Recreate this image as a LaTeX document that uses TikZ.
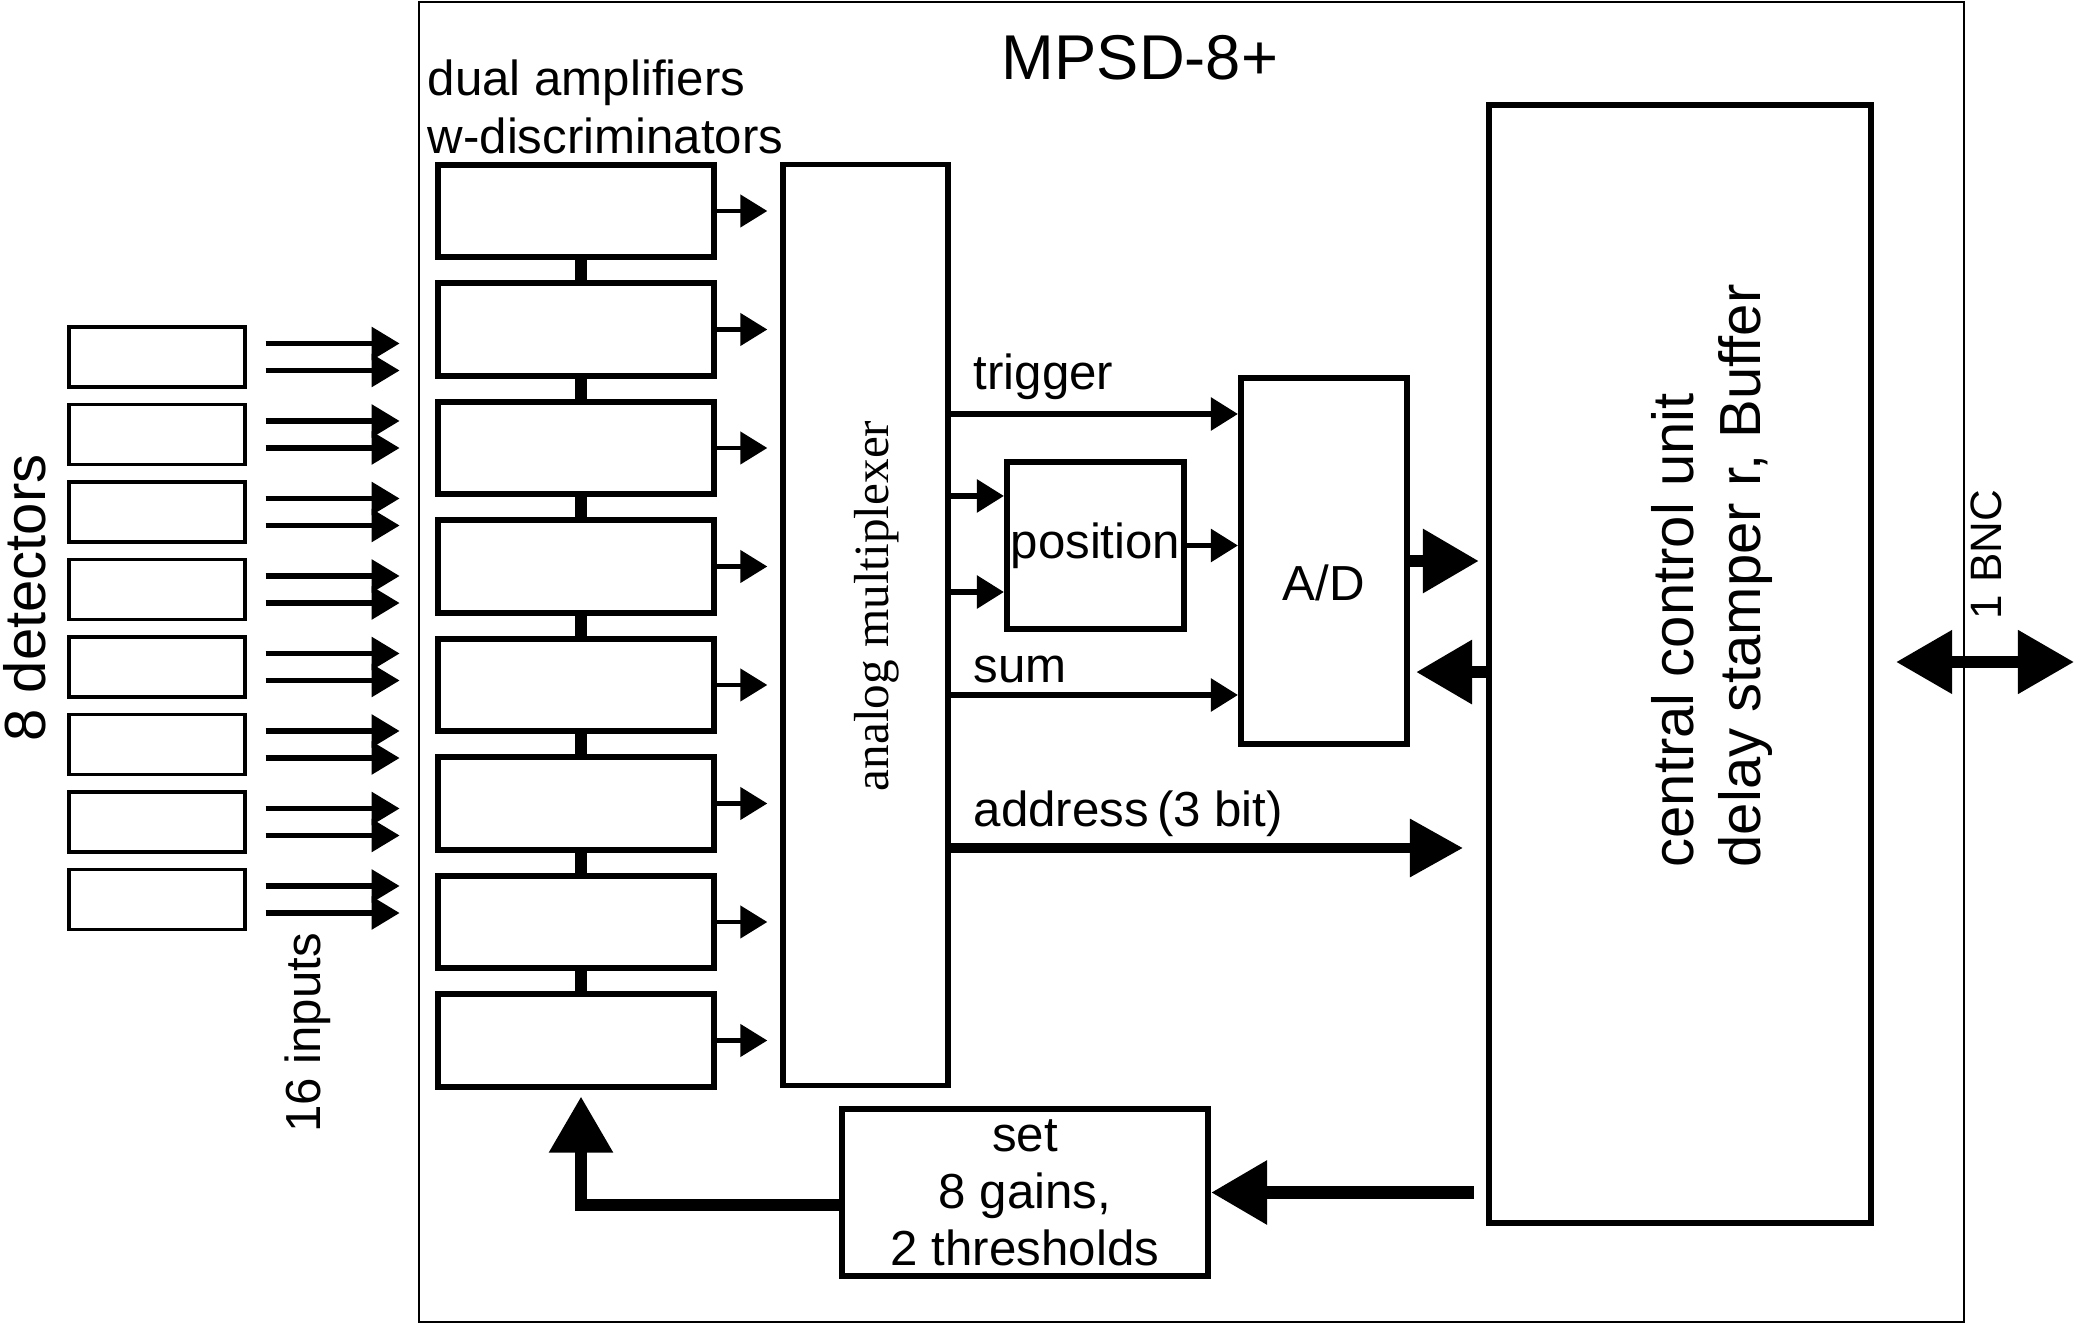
\documentclass[tikz,border=0pt]{standalone}
\usepackage{fontspec}
\setmainfont{Liberation Sans}
\newfontfamily\muxfont{Liberation Serif}
\usetikzlibrary{positioning,arrows.meta}

\begin{document}
\begin{tikzpicture}[x=0.01cm, y=-0.01cm,
  box/.style={draw, line width=1.7pt, inner sep=0pt},
  detbox/.style={draw, line width=0.9pt, minimum width=1.76cm, minimum height=0.6cm},
  ampbox/.style={box, minimum width=2.75cm, minimum height=0.92cm},
  txt/.style={font=\fontsize{14}{16.5}\selectfont, inner sep=0pt},
  inarr/.style={line width=1.6pt, -{Triangle[length=0.28cm, width=0.32cm]}},
  sig/.style={line width=1.6pt, -{Triangle[length=0.27cm, width=0.32cm]}},
  bigarr/.style={line width=3.6pt, -{Triangle[length=0.56cm, width=0.61cm]}},
  ampbar/.style={line width=3.2pt}
]
\useasboundingbox (0,0) rectangle (2075,1325);

% module frame
\draw[line width=0.7pt] (419,2) rectangle (1964,1322);
\node[font=\fontsize{18}{20}\selectfont, inner sep=0pt] (title) at (1140,58) {MPSD-8+};

% detectors and their inputs
\foreach \i in {1,...,8}{
  \node[detbox] (det\i) at (157,{357+77.5*(\i-1)}) {};
  \draw[inarr] ([xshift=0.19cm,yshift=0.135cm]det\i.east) -- +(134,0);
  \draw[inarr] ([xshift=0.19cm,yshift=-0.135cm]det\i.east) -- +(134,0);
}
\node[txt, rotate=90, font=\fontsize{16.5}{18}\selectfont] (detlab) at (25,598) {8 detectors};
\node[txt, rotate=90] (inlab) at (308,1033) {16 inputs};

% amplifier chain
\node[txt, align=left, anchor=south west] (amplab) at (427,155) {dual amplifiers\\w-discriminators};
\foreach \i in {1,...,8}
  \node[ampbox] (amp\i) at (576,{211+118.5*(\i-1)}) {};
\foreach \i [count=\j from 2] in {1,...,7}
  \draw[ampbar] ([xshift=0.05cm]amp\i.south) -- ([xshift=0.05cm]amp\j.north);

% multiplexer
\node[box, line width=1.5pt, minimum width=1.65cm, minimum height=9.2cm] (mux) at (865.5,625) {};
\node[rotate=90, inner sep=0pt, font=\muxfont\fontsize{14}{16}\selectfont] (muxlab) at (877,606) {analog multiplexer};
\foreach \i in {1,...,8}
  \draw[sig, line width=1.3pt, shorten >=0.13cm] (amp\i.east) -- (amp\i.east -| mux.west);

% A/D, position, central unit, set
\node[box, minimum width=1.66cm, minimum height=3.66cm] (ad) at (1324,561) {};
\node[txt, below=0.03cm of ad.center] (adlab) {A/D};
\node[box, minimum width=1.77cm, minimum height=1.67cm, font=\fontsize{14}{16}\selectfont] (pos) at (1095.5,545.5) {position};
\node[box, minimum width=3.82cm, minimum height=11.18cm] (ccu) at (1680,664) {};
\node[rotate=90, align=left, inner sep=0pt, font=\fontsize{16.5}{18.8}\selectfont] (ccutext) at (1712,576) {central control unit\\delay stamper r, Buffer};
\node[box, minimum width=3.66cm, minimum height=1.67cm, align=center, font=\fontsize{14}{16.2}\selectfont] (set) at (1025,1192.5) {set\\8 gains,\\2 thresholds};

% signal lines
\coordinate (trigY) at (0,414);
\coordinate (sumY) at (0,695);
\coordinate (addrY) at (0,848);
\draw[sig] (mux.east |- trigY) -- (ad.west |- trigY);
\node[txt, anchor=base west] (triglab) at (973,390) {trigger};
\draw[sig] (mux.east |- sumY) -- (ad.west |- sumY);
\node[txt, anchor=base west] (sumlab) at (973,683) {sum};
\draw[bigarr, line width=2.8pt, -{Triangle[length=0.53cm, width=0.56cm]}, shorten >=0.23cm] (mux.east |- addrY) -- (ccu.west |- addrY);
\node[txt, anchor=base west] (addrlab) at (973,827) {address\,(3 bit)};

\coordinate (pin1) at ([yshift=0.495cm]pos.west);
\coordinate (pin2) at ([yshift=-0.465cm]pos.west);
\draw[sig] (mux.east |- pin1) -- (pin1);
\draw[sig] (mux.east |- pin2) -- (pin2);
\draw[sig] (pos.east) -- (pos.east -| ad.west);

% A/D <-> central unit
\draw[bigarr, shorten >=0.07cm] (ad.east) -- (ad.east -| ccu.west);
\coordinate (adback) at ([yshift=-1.11cm]ad.east);
\draw[bigarr, shorten >=0.06cm] (ccu.west |- adback) -- (adback);

% gains and thresholds back to the amplifiers
\draw[bigarr, shorten <=0.12cm] (ccu.west |- set.east) -- (set.east);
\draw[bigarr, line width=3.4pt, shorten >=0.07cm] ([yshift=-0.125cm]set.west) -| ([xshift=0.05cm]amp8.south);

% BNC
\coordinate (bnc) at (2074,662);
\draw[line width=3.2pt, {Triangle[length=0.56cm, width=0.61cm]}-{Triangle[length=0.56cm, width=0.61cm]}, shorten <=0.22cm] (ccu.east |- bnc) -- (bnc);
\node[txt, rotate=90, anchor=west, font=\fontsize{12.5}{14}\selectfont] (bnclab) at (1986,620) {1 BNC};
\end{tikzpicture}
\end{document}
